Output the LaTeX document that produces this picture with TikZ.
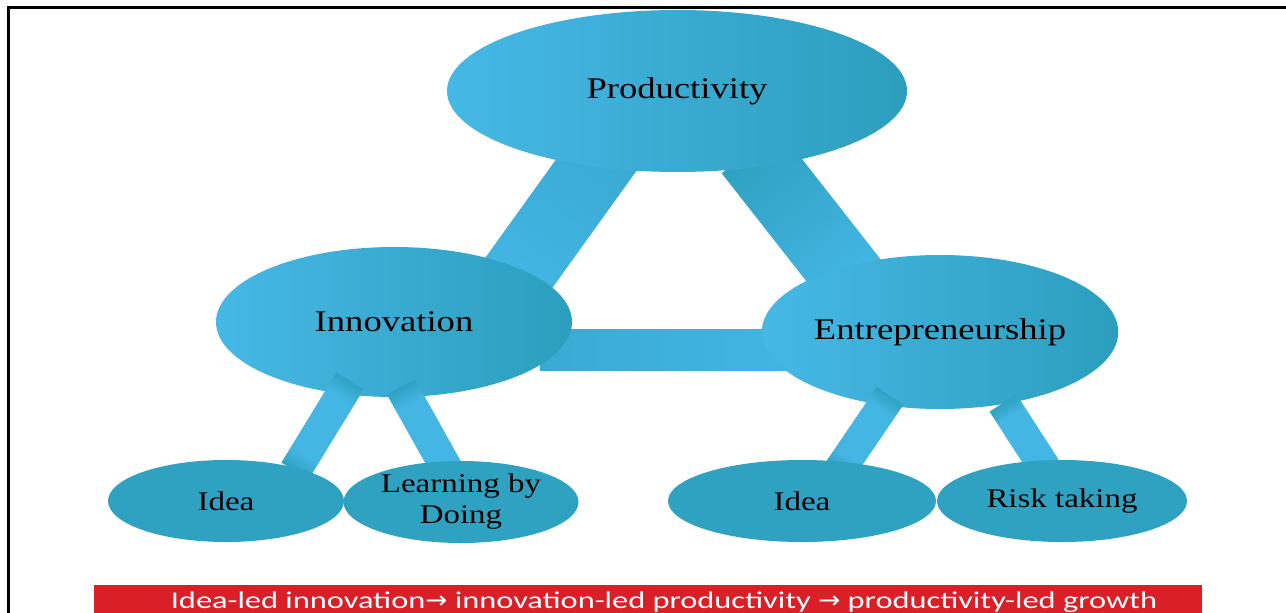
\documentclass[tikz,border=0pt]{standalone}
\usepackage{fontspec}
\setmainfont{Liberation Serif}[FakeStretch=1.22]
\newfontfamily\bannerfont{Carlito}[FakeStretch=1.35]
\newfontfamily\arrowfont{DejaVu Sans}[FakeStretch=1.1]
\usetikzlibrary{calc,shapes.geometric}
\definecolor{ellL}{HTML}{46B8E6}
\definecolor{ellR}{HTML}{2C9EBD}
\definecolor{smallfill}{HTML}{2FA2C2}
\definecolor{bandL}{HTML}{44B6E4}
\definecolor{bandD}{HTML}{2FA1C1}
\definecolor{bandM}{HTML}{38AAD3}
\definecolor{bannerred}{HTML}{DA1F27}
\pgfdeclarehorizontalshading{capboth}{100bp}{color(0bp)=(bandD); color(25bp)=(bandD); color(34bp)=(bandL); color(66bp)=(bandL); color(75bp)=(bandD); color(100bp)=(bandD)}
\pgfdeclarehorizontalshading{captop}{100bp}{color(0bp)=(bandD); color(25bp)=(bandD); color(35bp)=(bandL); color(100bp)=(bandL)}
\newcommand\myband[4]{%
  \path let \p1=($(#2)-(#1)$), \p2=($(#1)!0.5!(#2)$) in
    \pgfextra{\pgfmathsetmacro\tmpang{atan2(\y1,\x1)}\pgfmathsetmacro\tmplen{veclen(\x1,\y1)}%
      \xdef\bandang{\tmpang}\xdef\bandlen{\tmplen}\xdef\bandx{\x2}\xdef\bandy{\y2}};
  \begin{scope}[transform canvas={shift={(\bandx,\bandy)}, rotate=\bandang}]
    \path[#4] (-0.5*\bandlen*1pt,-0.5*#3*1pt) rectangle (0.5*\bandlen*1pt,0.5*#3*1pt);
  \end{scope}}
\tikzset{
  bigell/.style={ellipse, left color=ellL, right color=ellR, draw=none, inner sep=0pt,
    font=\fontsize{30}{32}\selectfont, text=black},
  smallell/.style={ellipse, fill=smallfill, draw=none, inner sep=0pt,
    font=\fontsize{27}{31}\selectfont, text=black, align=center},
  frameline/.style={black, line width=3pt},
  endsdark/.style={shading=capboth, shading angle=0},
  topdark/.style={shading=captop, shading angle=0},
}
\begin{document}
\begin{tikzpicture}[x=1pt, y=-1pt]
\useasboundingbox (0,0) rectangle (1286,613);
\fill[white] (0,0) rectangle (1286,613);
% frame
\coordinate (ftl) at (8.5,7);
\coordinate (ftr) at (1286,7);
\coordinate (fbl) at (8.5,613);
\draw[frameline] (ftr) -- (ftl) -- (fbl);
% band end points
\coordinate (b1a) at (610,146); \coordinate (b1b) at (505,292);
\coordinate (b2a) at (750,151); \coordinate (b2b) at (855,285);
\coordinate (b3a) at (540,350); \coordinate (b3b) at (800,350);
\coordinate (b4a) at (350,381); \coordinate (b4b) at (295,471);
\coordinate (b5a) at (401,387); \coordinate (b5b) at (448,471);
\coordinate (b6a) at (890,396); \coordinate (b6b) at (839,471);
\coordinate (b7a) at (1003,403); \coordinate (b7b) at (1045,468);
% top bands (behind the big ellipses)
\myband{b1a}{b1b}{72}{left color=bandM, right color=bandL}
\myband{b2a}{b2b}{72}{left color=bandD, right color=bandL}
\myband{b3a}{b3b}{41}{left color=bandM, right color=bandL}
% big ellipses
\node[bigell, minimum width=460, minimum height=162] (prod) at (677,91) {Productivity};
\node[bigell, minimum width=356, minimum height=150] (inno) at (394,322) {Innovation};
\node[bigell, minimum width=356, minimum height=154] (entre) at (940,332) {Entrepreneurship};
% small bands (over the big ellipses, under the small ones)
\myband{b4a}{b4b}{32}{endsdark}
\myband{b5a}{b5b}{32}{topdark}
\myband{b6a}{b6b}{32}{endsdark}
\myband{b7a}{b7b}{32}{topdark}
% small ellipses
\node[smallell, minimum width=236, minimum height=82] (idea1) at (226,501) {Idea};
\node[smallell, minimum width=235, minimum height=82] (learn) at (461,502) {Learning by\\Doing};
\node[smallell, minimum width=268, minimum height=82] (idea2) at (802,501) {Idea};
\node[smallell, minimum width=250, minimum height=82] (risk) at (1062,501) {Risk taking};
% banner
\fill[bannerred] (94,585) rectangle (1202,613);
\node[text=white, font=\bannerfont\fontsize{24}{26}\selectfont, inner sep=0pt, anchor=base] (banner) at (664,608)
  {Idea-led innovation{\arrowfont →} innovation-led productivity {\arrowfont →} productivity-led growth};
\end{tikzpicture}
\end{document}
